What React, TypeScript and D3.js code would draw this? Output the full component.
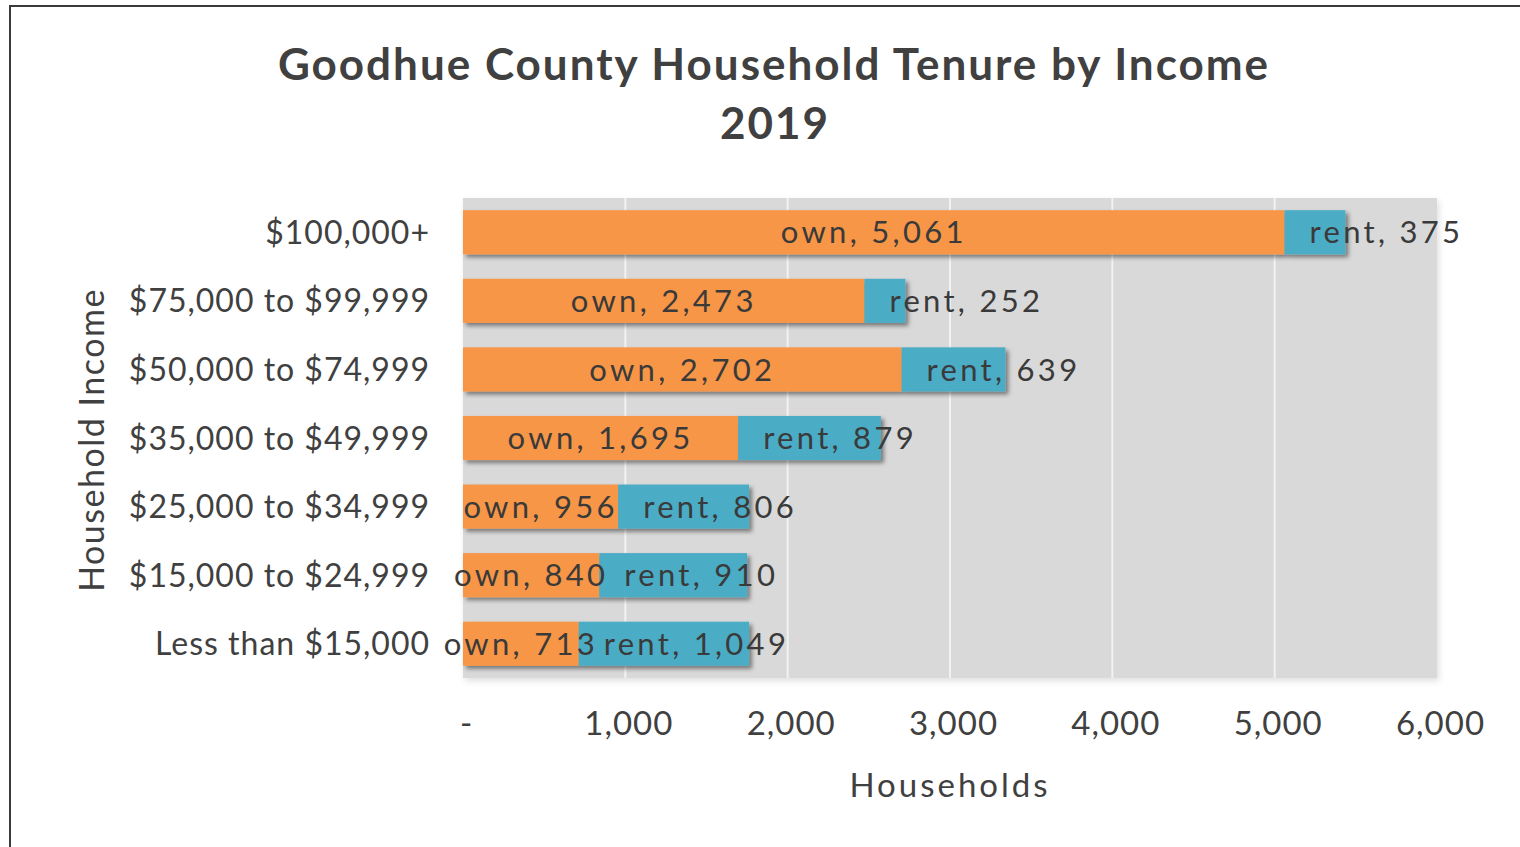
import React, { useEffect, useRef } from "react";
import * as d3 from "d3";

// chart values
const categories = [
  "$100,000+",
  "$75,000 to $99,999",
  "$50,000 to $74,999",
  "$35,000 to $49,999",
  "$25,000 to $34,999",
  "$15,000 to $24,999",
  "Less than $15,000",
];
const ownValues = [5061, 2473, 2702, 1695, 956, 840, 713];
const rentValues = [375, 252, 639, 879, 806, 910, 1049];
const xTicks = [0, 1000, 2000, 3000, 4000, 5000, 6000];

const WIDTH = 1520;
const HEIGHT = 847;
const FONT = "Lato, 'Open Sans', sans-serif";
const TEXT = "#404040";

const App = () => {
  const svgRef = useRef<SVGSVGElement>(null);

  useEffect(() => {
    const svg = d3.select(svgRef.current);
    svg.selectAll("*").remove();

    const plot = { left: 463, right: 1437, top: 198, bottom: 678 };

    const x = d3.scaleLinear().domain([0, 6000]).range([plot.left, plot.right]);
    const y = d3
      .scaleBand()
      .domain(categories)
      .range([plot.top, plot.bottom])
      .paddingInner(0.357)
      .paddingOuter(0.178);

    // drop shadow filters
    const defs = svg.append("defs");
    const f = defs.append("filter").attr("id", "shadow").attr("x", "-10%").attr("y", "-30%").attr("width", "130%").attr("height", "180%");
    f.append("feDropShadow")
      .attr("dx", 3)
      .attr("dy", 3)
      .attr("stdDeviation", 2)
      .attr("flood-color", "#000")
      .attr("flood-opacity", 0.45);
    const f2 = defs.append("filter").attr("id", "areaShadow").attr("x", "-5%").attr("y", "-5%").attr("width", "110%").attr("height", "115%");
    f2.append("feDropShadow")
      .attr("dx", 2)
      .attr("dy", 3)
      .attr("stdDeviation", 3)
      .attr("flood-color", "#000")
      .attr("flood-opacity", 0.12);

    // outer frame
    svg.append("rect")
      .attr("x", 10)
      .attr("y", 6)
      .attr("width", WIDTH)
      .attr("height", HEIGHT)
      .attr("fill", "white")
      .attr("stroke", "#3a3a3a")
      .attr("stroke-width", 2);

    // title
    const title = svg.append("text")
      .attr("text-anchor", "middle")
      .attr("font-family", FONT)
      .attr("font-weight", "bold")
      .attr("font-size", 44)
      .attr("letter-spacing", 2)
      .attr("fill", TEXT);
    title.append("tspan").attr("x", 774).attr("y", 80).text("Goodhue County Household Tenure by Income");
    title.append("tspan").attr("x", 775).attr("y", 139).text("2019");

    // plot area background
    svg.append("rect")
      .attr("x", plot.left)
      .attr("y", plot.top)
      .attr("width", plot.right - plot.left)
      .attr("height", plot.bottom - plot.top)
      .attr("fill", "#d9d9d9")
      .attr("filter", "url(#areaShadow)");

    // vertical gridlines
    svg.append("g")
      .selectAll("line")
      .data(xTicks.slice(1, -1))
      .enter()
      .append("line")
      .attr("x1", (d) => x(d))
      .attr("x2", (d) => x(d))
      .attr("y1", plot.top)
      .attr("y2", plot.bottom)
      .attr("stroke", "#f2f2f2")
      .attr("stroke-width", 2);

    // stacked bars
    const rows = categories.map((c, i) => ({ cat: c, own: ownValues[i], rent: rentValues[i] }));
    const bars = svg.append("g").attr("filter", "url(#shadow)");
    bars.selectAll("g")
      .data(rows)
      .enter()
      .append("g")
      .each(function (d) {
        const g = d3.select(this);
        g.append("rect")
          .attr("x", x(0))
          .attr("y", y(d.cat)!)
          .attr("width", x(d.own) - x(0))
          .attr("height", y.bandwidth())
          .attr("fill", "#f79646");
        g.append("rect")
          .attr("x", x(d.own))
          .attr("y", y(d.cat)!)
          .attr("width", x(d.own + d.rent) - x(d.own))
          .attr("height", y.bandwidth())
          .attr("fill", "#4bacc6");
      });

    const fmt = d3.format(",");

    // data labels
    const labels = svg.append("g")
      .attr("font-family", FONT)
      .attr("font-size", 31)
      .attr("fill", "#3a3a3a")
      .attr("letter-spacing", 3.3);
    labels.selectAll("text.own")
      .data(rows)
      .enter()
      .append("text")
      .attr("class", "own")
      .attr("x", (d) => (x(0) + x(d.own)) / 2)
      .attr("y", (d) => y(d.cat)! + y.bandwidth() / 2)
      .attr("dy", "0.36em")
      .attr("text-anchor", "middle")
      .text((d) => `own, ${fmt(d.own)}`);
    labels.selectAll("text.rent")
      .data(rows)
      .enter()
      .append("text")
      .attr("class", "rent")
      .attr("x", (d) => x(d.own) + 25)
      .attr("y", (d) => y(d.cat)! + y.bandwidth() / 2)
      .attr("dy", "0.36em")
      .attr("text-anchor", "start")
      .text((d) => `rent, ${fmt(d.rent)}`);

    // y axis (categories)
    const yAxis = svg.append("g")
      .attr("transform", `translate(${plot.left - 33},0)`)
      .call(d3.axisLeft(y).tickSize(0).tickPadding(0));
    yAxis.select(".domain").remove();
    yAxis.selectAll("text")
      .attr("font-family", FONT)
      .attr("font-size", 32)
      .attr("letter-spacing", 1)
      .attr("fill", TEXT)
      .attr("dy", "0.36em");

    // x axis
    const xAxis = svg.append("g")
      .attr("transform", `translate(0,${plot.bottom})`)
      .call(
        d3.axisBottom(x)
          .tickValues(xTicks)
          .tickSize(0)
          .tickPadding(0)
          .tickFormat((d) => (+d === 0 ? "-" : fmt(+d)))
      );
    xAxis.select(".domain").remove();
    xAxis.selectAll("text")
      .attr("font-family", FONT)
      .attr("font-size", 33)
      .attr("letter-spacing", 1)
      .attr("fill", TEXT)
      .attr("dy", null)
      .attr("y", 57)
      .attr("dx", 3);

    // axis titles
    svg.append("text")
      .attr("x", 950)
      .attr("y", 797)
      .attr("text-anchor", "middle")
      .attr("font-family", FONT)
      .attr("font-size", 33)
      .attr("letter-spacing", 3)
      .attr("fill", TEXT)
      .text("Households");

    svg.append("text")
      .attr("transform", `translate(104,440) rotate(-90)`)
      .attr("text-anchor", "middle")
      .attr("font-family", FONT)
      .attr("font-size", 34)
      .attr("letter-spacing", 1.5)
      .attr("fill", TEXT)
      .text("Household Income");
  }, []);

  return (
    <svg
      ref={svgRef}
      width={WIDTH}
      height={HEIGHT}
      style={{ position: "absolute", left: 0, top: 0, background: "white" }}
    ></svg>
  );
};

export default App;
